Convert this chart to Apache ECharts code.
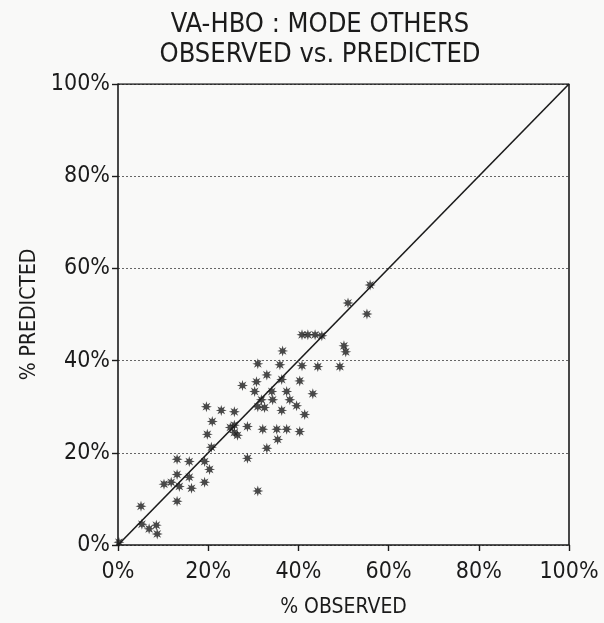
<!DOCTYPE html>
<html>
<head>
<meta charset="utf-8">
<script src="https://cdn.jsdelivr.net/npm/echarts@6/dist/echarts.min.js"></script>
<style>
  html, body { margin: 0; padding: 0; background: #f9f9f8; }
  #chart { width: 604px; height: 623px; }
</style>
</head>
<body>
<div id="chart"></div>
<script>
// Observed vs predicted mode share (percent), one pair per zone
const observed = [
  55.9, 51.0, 55.2, 40.8, 42.1, 43.7, 45.2, 50.1, 50.5, 36.5,
  31.0, 35.9, 40.8, 44.3, 49.2, 33.0, 36.3, 40.3, 27.6, 30.7,
  30.3, 34.1, 37.4, 43.2, 31.8, 38.1, 34.3, 39.6, 32.5, 36.3,
  41.4, 22.9, 25.8, 31.0, 19.6, 20.9, 25.8, 25.8, 28.7, 32.1,
  35.2, 37.4, 40.3, 35.4, 33.0, 28.7, 19.8, 20.7, 31.0, 13.1,
  15.8, 19.2, 20.3, 13.1, 15.8, 10.2, 11.8, 13.6, 16.3, 19.2,
  13.1, 5.1, 5.3, 6.9, 8.5, 8.7, 0.2, 24.9, 26.5
];
const predicted = [
  56.4, 52.5, 50.1, 45.6, 45.6, 45.6, 45.4, 43.2, 41.9, 42.1,
  39.3, 39.1, 38.9, 38.7, 38.7, 36.9, 35.9, 35.6, 34.6, 35.4,
  33.3, 33.3, 33.3, 32.8, 31.5, 31.5, 31.5, 30.2, 29.8, 29.2,
  28.3, 29.2, 28.9, 30.0, 30.0, 26.8, 24.4, 26.0, 25.7, 25.1,
  25.1, 25.1, 24.6, 22.9, 21.0, 18.8, 24.0, 21.2, 11.7, 18.6,
  18.1, 18.1, 16.4, 15.3, 14.7, 13.2, 13.6, 12.7, 12.3, 13.6,
  9.5, 8.4, 4.5, 3.5, 4.3, 2.4, 0.6, 25.5, 23.8
];
// Perfect-fit reference line
const diagonal = [[0, 0], [100, 100]];
const tickValues = [0, 20, 40, 60, 80, 100];

const points = observed.map((o, i) => [o, predicted[i]]);

const ink = '#1b1b1b';
const font = "'DejaVu Sans Condensed', 'Liberation Sans Narrow', 'DejaVu Sans', sans-serif";
const asterisk = 'path://M20 10 L14.16 11.72 L17.07 17.07 L11.72 14.16 L10 20 L8.28 14.16 L2.93 17.07 L5.84 11.72 L0 10 L5.84 8.28 L2.93 2.93 L8.28 5.84 L10 0 L11.72 5.84 L17.07 2.93 L14.16 8.28 Z';

const chart = echarts.init(document.getElementById('chart'), null, { renderer: 'canvas' });

const axisCommon = {
  type: 'value',
  min: 0,
  max: 100,
  interval: 20,
  nameLocation: 'middle',
  nameTextStyle: { color: ink, fontFamily: font, fontSize: 21 },
  axisLine: { show: true, lineStyle: { color: ink, width: 1.6 } },
  axisTick: { show: true, inside: false, length: 6, lineStyle: { color: ink, width: 1.4 } },
  axisLabel: {
    color: ink, fontFamily: font, fontSize: 23,
    formatter: v => tickValues.includes(v) ? v + '%' : ''
  }
};

chart.setOption({
  backgroundColor: '#f9f9f8',
  animation: false,
  title: {
    text: 'VA-HBO : MODE OTHERS\nOBSERVED vs. PREDICTED',
    left: 315,
    textAlign: 'center',
    top: 5,
    textStyle: { color: ink, fontFamily: font, fontSize: 27, fontWeight: 'normal', lineHeight: 30 }
  },
  grid: { left: 118, right: 35, top: 84, bottom: 77, containLabel: false },
  xAxis: Object.assign({}, axisCommon, {
    name: '% OBSERVED',
    nameGap: 52,
    splitLine: { show: false },
    axisLabel: Object.assign({}, axisCommon.axisLabel, { margin: 16 })
  }),
  yAxis: Object.assign({}, axisCommon, {
    name: '% PREDICTED',
    nameGap: 78,
    splitLine: { show: true, lineStyle: { color: '#666', width: 1, type: [2, 2] } },
    axisLabel: Object.assign({}, axisCommon.axisLabel, { margin: 8 })
  }),
  series: [
    {
      type: 'line',
      data: diagonal,
      symbol: 'none',
      lineStyle: { color: ink, width: 1.6 },
      silent: true,
      z: 2
    },
    {
      type: 'scatter',
      data: points,
      symbol: asterisk,
      symbolSize: 11,
      itemStyle: { color: ink },
      z: 3
    },
    {
      // frame: top and right borders of the plot box
      type: 'line',
      data: [[0, 100], [100, 100], [100, 0]],
      symbol: 'none',
      lineStyle: { color: ink, width: 1.6 },
      silent: true,
      z: 1
    }
  ]
});
</script>
</body>
</html>
